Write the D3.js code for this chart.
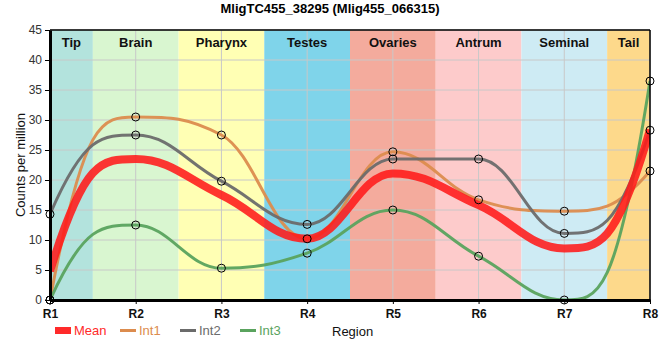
<!DOCTYPE html>
<html><head><meta charset="utf-8">
<script src="https://cdn.jsdelivr.net/npm/d3@7"></script>
<style>body{margin:0;background:#fff;}svg{display:block;font-family:"Liberation Sans",Arial,sans-serif;}</style>
</head><body><svg id="c" width="660" height="360"></svg>
<script>
const regions = ["R1","R2","R3","R4","R5","R6","R7","R8"];
const bandNames = ["Tip","Brain","Pharynx","Testes","Ovaries","Antrum","Seminal","Tail"];
const bandColors = ["#b3e3dd","#d9f6d0","#ffffb4","#7fd4ea","#f4ab9d","#fdcbcb","#ceebf4","#fdd98b"];
const int1 = [0, 30.5, 27.5, 10.2, 24.7, 16.7, 14.8, 21.5];
const int2 = [14.3, 27.5, 19.8, 12.6, 23.5, 23.5, 11.1, 28.3];
const int3 = [0, 12.5, 5.3, 7.8, 15.0, 7.3, 0, 36.5];
const meanVals = [4.8, 23.5, 17.5, 10.2, 21.1, 15.8, 8.6, 28.4];
const yTicks = [0,5,10,15,20,25,30,35,40,45];

const svg = d3.select("#c");
const L=50,R=650,T=30,B=300;
const x = d3.scalePoint().domain(regions).range([L,R]);
const y = d3.scaleLinear().domain([0,45]).range([B,T]);
const step = x.step();

// smoothed spline through the points (control points 40% toward neighbours)
function splinePath(vals){
  const pts = vals.map((v,i)=>[x(regions[i]), y(v)]);
  const n = pts.length, sm = 1.5, den = sm+1;
  const lc = [], rc = [];
  pts.forEach((pt,i)=>{
    const [px,py] = pt;
    if(i===0){ const [nx,ny]=pts[1]; rc[i]=[(sm*px+nx)/den, ny]; return; }
    if(i===n-1){ const [lx,ly]=pts[i-1]; lc[i]=[(sm*px+lx)/den, ly]; return; }
    const [lx,ly]=pts[i-1], [nx,ny]=pts[i+1];
    let lcx=(sm*px+lx)/den, lcy=(sm*py+ly)/den;
    let rcx=(sm*px+nx)/den, rcy=(sm*py+ny)/den;
    let corr=0;
    if(rcx!==lcx) corr=((rcy-lcy)*(rcx-px))/(rcx-lcx)+py-rcy;
    lcy+=corr; rcy+=corr;
    if(lcy>ly && lcy>py){ lcy=Math.max(ly,py); rcy=2*py-lcy; }
    else if(lcy<ly && lcy<py){ lcy=Math.min(ly,py); rcy=2*py-lcy; }
    if(rcy>ny && rcy>py){ rcy=Math.max(ny,py); lcy=2*py-rcy; }
    else if(rcy<ny && rcy<py){ rcy=Math.min(ny,py); lcy=2*py-rcy; }
    lc[i]=[lcx,lcy]; rc[i]=[rcx,rcy];
  });
  const p = d3.path();
  p.moveTo(pts[0][0],pts[0][1]);
  for(let i=1;i<n;i++){
    p.bezierCurveTo(rc[i-1][0],rc[i-1][1],lc[i][0],lc[i][1],pts[i][0],pts[i][1]);
  }
  return p.toString();
}

// bands
svg.append("g").selectAll("rect").data(bandNames).join("rect")
  .attr("x",(d,i)=>Math.max(L, x(regions[i])-step/2))
  .attr("width",(d,i)=>Math.min(R, x(regions[i])+step/2)-Math.max(L, x(regions[i])-step/2))
  .attr("y",T).attr("height",B-T).attr("fill",(d,i)=>bandColors[i]);

// grid
const g = svg.append("g");
g.selectAll("line.h").data(yTicks).join("line").attr("class","h")
  .attr("x1",L).attr("x2",R).attr("y1",d=>y(d)).attr("y2",d=>y(d))
  .attr("stroke","#c8c8c8").attr("stroke-width",1);
g.selectAll("line.v").data(regions).join("line").attr("class","v")
  .attr("x1",d=>x(d)).attr("x2",d=>x(d)).attr("y1",T).attr("y2",B)
  .attr("stroke","#c8c8c8").attr("stroke-width",1);

// band labels
svg.append("g").selectAll("text").data(bandNames).join("text")
  .attr("x",(d,i)=>{const a=Math.max(L,x(regions[i])-step/2),b=Math.min(R,x(regions[i])+step/2);return (a+b)/2;})
  .attr("y",47).attr("text-anchor","middle").attr("font-size",13).attr("font-weight","bold")
  .attr("fill","#111").text(d=>d);

// lines
const series = [
  {name:"Int1", vals:int1, color:"#dc8c4e", w:3},
  {name:"Int2", vals:int2, color:"#6b6b6b", w:3},
  {name:"Int3", vals:int3, color:"#5aa35e", w:3},
];
svg.append("clipPath").attr("id","cp").append("rect").attr("x",L).attr("y",T-5).attr("width",R-L).attr("height",B-T+5);
const lg = svg.append("g").attr("clip-path","url(#cp)");
series.forEach(s=>{
  lg.append("path").attr("d",splinePath(s.vals)).attr("fill","none").attr("stroke",s.color)
    .attr("stroke-width",s.w).attr("stroke-opacity",0.95);
});
lg.append("path").attr("d",splinePath(meanVals)).attr("fill","none").attr("stroke","#ff1a1a")
  .attr("stroke-width",8).attr("stroke-opacity",0.88);

// axes
const ya = svg.append("g").attr("transform",`translate(${L},0)`)
  .call(d3.axisLeft(y).tickValues(yTicks).tickSize(5).tickSizeOuter(0));
ya.select(".domain").attr("stroke","#000").attr("stroke-width",3);
ya.selectAll("text").attr("font-size",12).attr("fill","#333").attr("font-family","Liberation Sans, Arial, sans-serif");
const xa = svg.append("g").attr("transform",`translate(0,${B})`)
  .call(d3.axisBottom(x).tickSize(4).tickSizeOuter(0));
xa.select(".domain").attr("stroke","#000").attr("stroke-width",3);
xa.selectAll("text").attr("font-size",12).attr("font-weight","bold").attr("fill","#111").attr("dy","0.9em")
  .attr("font-family","Liberation Sans, Arial, sans-serif");
svg.append("line").attr("x1",L).attr("x2",R).attr("y1",T).attr("y2",T).attr("stroke","#000").attr("stroke-width",1.5);
svg.append("line").attr("x1",R).attr("x2",R).attr("y1",T).attr("y2",B).attr("stroke","#000").attr("stroke-width",1.5);

// points
series.forEach(s=>{
  svg.append("g").selectAll("circle").data(s.vals).join("circle")
    .attr("cx",(d,i)=>x(regions[i])).attr("cy",d=>y(d)).attr("r",4)
    .attr("fill","none").attr("stroke","#000").attr("stroke-width",1);
});

// title
svg.append("text").attr("x",330).attr("y",13).attr("text-anchor","middle")
  .attr("font-size",13).attr("font-weight","bold").text("MligTC455_38295 (Mlig455_066315)");
// y label
svg.append("text").attr("transform","translate(25,165) rotate(-90)").attr("text-anchor","middle")
  .attr("font-size",13).attr("fill","#111").text("Counts per million");
// x label
svg.append("text").attr("x",332).attr("y",336).attr("font-size",13).attr("fill","#111").text("Region");

// legend
const leg = [
  {name:"Mean", color:"#ff2a2a", x:55, w:7},
  {name:"Int1", color:"#dc8c4e", x:120, w:3},
  {name:"Int2", color:"#6b6b6b", x:180, w:3},
  {name:"Int3", color:"#5aa35e", x:240, w:3},
];
const lgd = svg.append("g");
leg.forEach(l=>{
  lgd.append("line").attr("x1",l.x).attr("x2",l.x+16).attr("y1",330.5).attr("y2",330.5)
    .attr("stroke",l.color).attr("stroke-width",l.w);
  lgd.append("text").attr("x",l.x+19).attr("y",335).attr("font-size",13).attr("fill",l.color).text(l.name);
});
</script></body></html>
